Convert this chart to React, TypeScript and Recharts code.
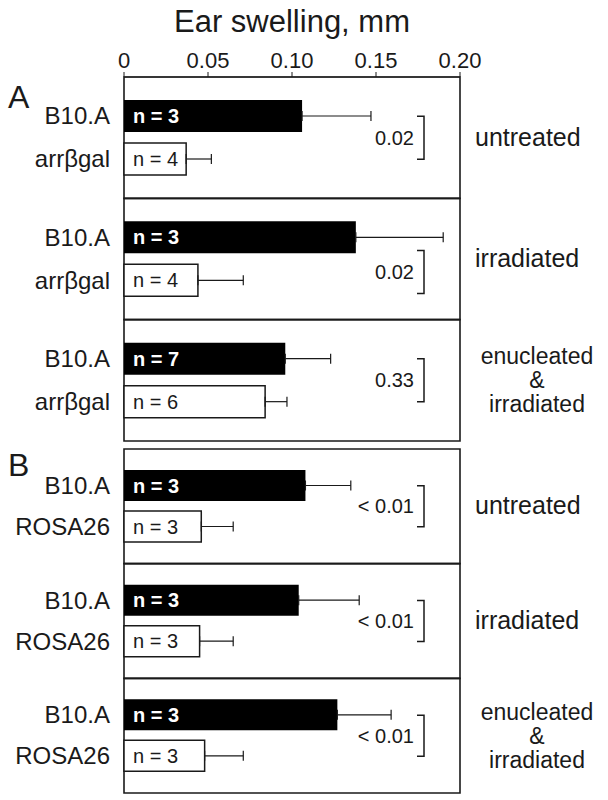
import React from 'react';
import { BarChart, Bar, XAxis, YAxis, ErrorBar, LabelList, ReferenceArea } from 'recharts';

const xTicks = [0, 0.05, 0.1, 0.15, 0.2];

// A: B10.A vs arrβgal
const condsA = ['untreated', 'irradiated', 'enucleated & irradiated'];
const strainsA = ['B10.A', 'arrβgal'];
const b10A = [0.106, 0.138, 0.096];
const b10ErrA = [0.041, 0.052, 0.027];
const b10nA = [3, 3, 7];
const arrA = [0.037, 0.044, 0.084];
const arrErrA = [0.015, 0.027, 0.013];
const arrnA = [4, 4, 6];
const pA = ['0.02', '0.02', '0.33'];

// B: B10.A vs ROSA26
const condsB = ['untreated', 'irradiated', 'enucleated & irradiated'];
const strainsB = ['B10.A', 'ROSA26'];
const b10B = [0.108, 0.104, 0.127];
const b10ErrB = [0.027, 0.036, 0.032];
const b10nB = [3, 3, 3];
const rosaB = [0.046, 0.045, 0.048];
const rosaErrB = [0.019, 0.02, 0.023];
const rosanB = [3, 3, 3];
const pB = ['< 0.01', '< 0.01', '< 0.01'];

const FONT = '"Liberation Sans", Arial, Helvetica, sans-serif';
const INK = '#1a1a1a';

type Row = {
  cond: string;
  wt: number;
  wtErr: number[];
  wtN: number;
  tg: number;
  tgErr: number[];
  tgN: number;
  p: string;
};

function buildRows(conds: string[], wt: number[], wtErr: number[], wtN: number[],
  tg: number[], tgErr: number[], tgN: number[], p: string[]): Row[] {
  return conds.map((cond, i) => ({
    cond,
    wt: wt[i],
    wtErr: [0, wtErr[i]],
    wtN: wtN[i],
    tg: tg[i],
    tgErr: [0, tgErr[i]],
    tgN: tgN[i],
    p: p[i],
  }));
}

const rowsA = buildRows(condsA, b10A, b10ErrA, b10nA, arrA, arrErrA, arrnA, pA);
const rowsB = buildRows(condsB, b10B, b10ErrB, b10nB, rosaB, rosaErrB, rosanB, pB);

function leftTick(p: any, strains: string[], step: number, letter: string) {
  const { x, y, index } = p;
  return (
    <g>
      {index === 0 && (
        <text x={8} y={y - 30} fontSize={32} fill={INK}>{letter}</text>
      )}
      <text x={x - 14} y={y - step + 8} textAnchor="end" fontSize={24} fill={INK}>{strains[0]}</text>
      <text x={x - 14} y={y + step + 8} textAnchor="end" fontSize={24} fill={INK}>{strains[1]}</text>
    </g>
  );
}

function rightTick(p: any, rows: Row[], step: number) {
  const { x, y, index } = p;
  const row = rows[index];
  const lines = row.cond.split(/\s(&)\s/);
  // bracket drops below the black bar when its error bar runs past it
  const shift = row.wt + row.wtErr[1] > 0.175 ? 13 : 0;
  const y1 = y - step + shift;
  const y2 = y + step + shift;
  const mid = (y1 + y2) / 2;
  const multi = lines.length > 1;
  return (
    <g>
      <path d={`M${x - 43},${y1}H${x - 36}V${y2}H${x - 43}`} fill="none" stroke={INK} strokeWidth={1.5} />
      <text x={x - 46} y={mid + 7} textAnchor="end" fontSize={20} fill={INK}>{row.p}</text>
      {lines.map((t, i) => (
        <text
          key={i}
          x={multi ? x + 77 : x + 15}
          y={y + (i - (lines.length - 1) / 2) * 24 + 8}
          textAnchor={multi ? 'middle' : 'start'}
          fontSize={multi ? 23 : 25}
          fill={INK}
        >
          {t}
        </text>
      ))}
    </g>
  );
}

interface PanelProps {
  rows: Row[];
  strains: string[];
  letter: string;
  showAxis: boolean;
  height: number;
  marginTop: number;
  barSize: number;
  barGap: number;
}

function Panel({ rows, strains, letter, showAxis, height, marginTop, barSize, barGap }: PanelProps) {
  const step = (barSize + barGap) / 2;
  return (
    <BarChart
      layout="vertical"
      width={608}
      height={height}
      data={rows}
      margin={{ top: marginTop, right: 0, bottom: 5, left: 0 }}
      barSize={barSize}
      barGap={barGap}
    >
      <XAxis
        type="number"
        domain={[0, 0.2]}
        ticks={xTicks}
        orientation="top"
        height={77}
        hide={!showAxis}
        stroke={INK}
        tickSize={5}
        tickMargin={4}
        tick={{ fontSize: 22, fill: INK }}
        tickFormatter={(v: number) => (v === 0 ? '0' : v.toFixed(2))}
        label={{ value: 'Ear swelling, mm', position: 'insideTop', offset: 10, fontSize: 31, fill: INK }}
      />
      <YAxis
        yAxisId="left"
        type="category"
        dataKey="cond"
        width={124}
        axisLine={false}
        tickLine={false}
        tickSize={0}
        tickMargin={0}
        tick={(p: any) => leftTick(p, strains, step, letter)}
      />
      <YAxis
        yAxisId="right"
        orientation="right"
        type="category"
        dataKey="cond"
        width={148}
        axisLine={false}
        tickLine={false}
        tickSize={0}
        tickMargin={0}
        tick={(p: any) => rightTick(p, rows, step)}
      />
      {rows.map((r) => (
        <ReferenceArea
          key={r.cond}
          yAxisId="left"
          y1={r.cond}
          y2={r.cond}
          x1={0}
          x2={0.2}
          fill="none"
          fillOpacity={0}
          stroke={INK}
          strokeWidth={1.6}
        />
      ))}
      <Bar yAxisId="left" dataKey="wt" fill="#000" isAnimationActive={false}>
        <ErrorBar dataKey="wtErr" direction="x" width={5} stroke={INK} strokeWidth={1.2} />
        <LabelList
          dataKey="wtN"
          position="insideLeft"
          offset={9}
          formatter={(v: any) => `n = ${v}`}
          fill="#fff"
          stroke="none"
          fontSize={20}
          fontWeight="bold"
        />
      </Bar>
      <Bar yAxisId="left" dataKey="tg" fill="#fff" stroke={INK} strokeWidth={1.5} isAnimationActive={false}>
        <ErrorBar dataKey="tgErr" direction="x" width={5} stroke={INK} strokeWidth={1.2} />
        <LabelList
          dataKey="tgN"
          position="insideLeft"
          offset={9}
          formatter={(v: any) => `n = ${v}`}
          fill={INK}
          stroke="none"
          fontSize={20}
        />
      </Bar>
    </BarChart>
  );
}

export default function App() {
  return (
    <div style={{ position: 'absolute', left: 0, top: 0, width: 608, height: 800, background: '#fff', fontFamily: FONT }}>
      <div style={{ position: 'absolute', left: 0, top: 0 }}>
        <Panel rows={rowsA} strains={strainsA} letter="A" showAxis height={446} marginTop={0} barSize={32} barGap={11} />
      </div>
      <div style={{ position: 'absolute', left: 0, top: 444 }}>
        <Panel rows={rowsB} strains={strainsB} letter="B" showAxis={false} height={354} marginTop={5} barSize={31} barGap={10} />
      </div>
    </div>
  );
}
